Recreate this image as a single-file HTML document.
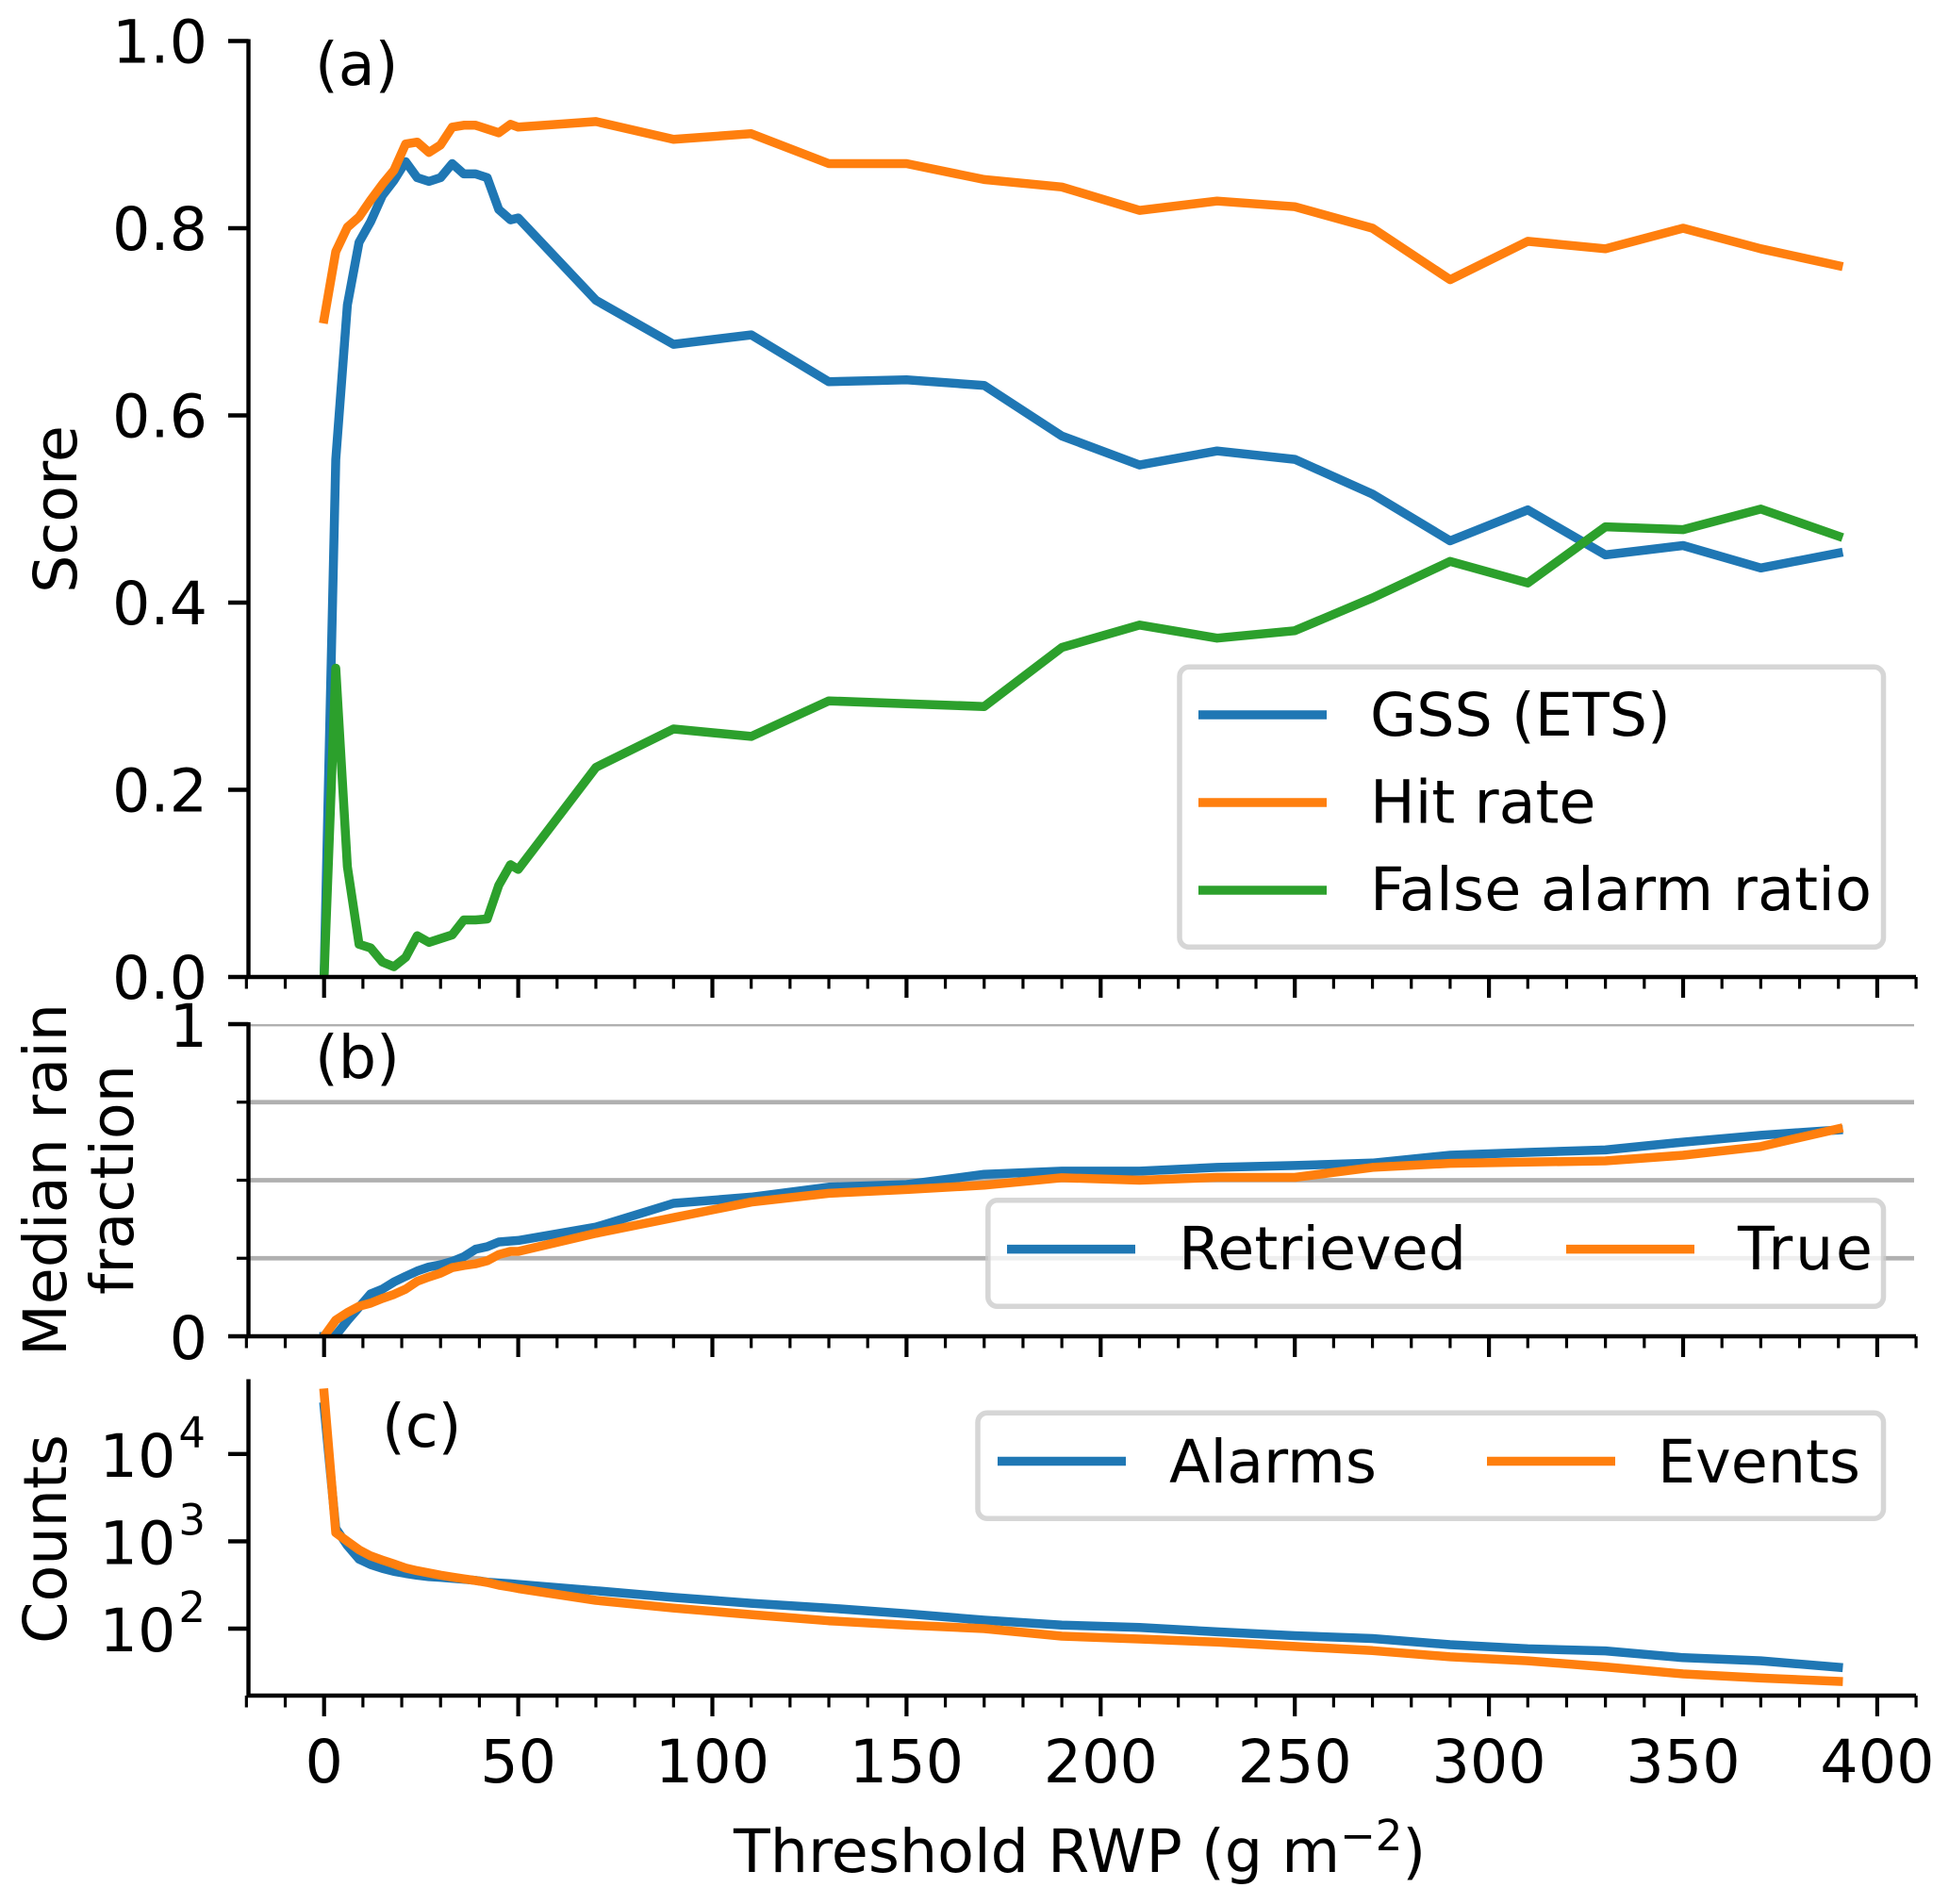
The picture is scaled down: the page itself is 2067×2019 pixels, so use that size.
<!DOCTYPE html>
<html lang="en">
<head>
<meta charset="utf-8">
<title>Threshold RWP scores</title>
<style>
html,body{margin:0;padding:0;background:#fff;}
svg{display:block;}
text{font-family:"DejaVu Sans","Liberation Sans",sans-serif;font-size:63.5px;fill:#000;}
.legend-frame{fill:rgba(255,255,255,0.8);stroke:rgba(204,204,204,0.8);stroke-width:5.5;}
</style>
</head>
<body>
<svg id="chart" xmlns="http://www.w3.org/2000/svg" width="2067" height="2019" viewBox="0 0 2067 2019">
  <rect x="0" y="0" width="2067" height="2019" fill="#fff"/>
  <defs>
    <clipPath id="clip-a"><rect x="263.5" y="43" width="1768.5" height="993"/></clipPath>
    <clipPath id="clip-b"><rect x="263.5" y="1086" width="1768.5" height="331"/></clipPath>
    <clipPath id="clip-c"><rect x="263.5" y="1464.5" width="1768.5" height="333.5"/></clipPath>
  </defs>
  <g id="grid-layer"></g>
  <g id="series-layer"></g>
  <g id="axes-layer"></g>

  <text x="334" y="90">(a)</text>
  <text x="334" y="1143">(b)</text>
  <text x="405" y="1534">(c)</text>

  <text text-anchor="middle" transform="translate(81 540) rotate(-90)">Score</text>
  <text text-anchor="middle" transform="translate(70 1251) rotate(-90)">Median rain</text>
  <text text-anchor="middle" transform="translate(141 1251) rotate(-90)">fraction</text>
  <text text-anchor="middle" transform="translate(70 1632) rotate(-90)">Counts</text>
  <text x="778" y="1985">Threshold RWP (g m<tspan dy="-23" font-size="45">−2</tspan><tspan dy="23">)</tspan></text>

  <g>
    <rect class="legend-frame" x="1251" y="707.3" width="746.5" height="297" rx="10"/>
    <line x1="1271" x2="1407" y1="758" y2="758" stroke="#1f77b4" stroke-width="9.5"/>
    <text x="1453" y="780">GSS (ETS)</text>
    <line x1="1271" x2="1407" y1="851" y2="851" stroke="#ff7f0e" stroke-width="9.5"/>
    <text x="1453" y="872.5">Hit rate</text>
    <line x1="1271" x2="1407" y1="944" y2="944" stroke="#2ca02c" stroke-width="9.5"/>
    <text x="1453" y="965" textLength="532" lengthAdjust="spacing">False alarm ratio</text>
  </g>

  <g>
    <rect class="legend-frame" x="1047.8" y="1272.8" width="949.7" height="112.5" rx="10"/>
    <line x1="1068" x2="1204" y1="1324.6" y2="1324.6" stroke="#1f77b4" stroke-width="9.5"/>
    <text x="1250" y="1346">Retrieved</text>
    <line x1="1661" x2="1797" y1="1324.6" y2="1324.6" stroke="#ff7f0e" stroke-width="9.5"/>
    <text x="1843" y="1346" textLength="143" lengthAdjust="spacing">True</text>
  </g>

  <g>
    <rect class="legend-frame" x="1037" y="1498.2" width="960.5" height="112" rx="10"/>
    <line x1="1058" x2="1194" y1="1549.5" y2="1549.5" stroke="#1f77b4" stroke-width="9.5"/>
    <text x="1240" y="1572">Alarms</text>
    <line x1="1577" x2="1713" y1="1549.5" y2="1549.5" stroke="#ff7f0e" stroke-width="9.5"/>
    <text x="1758" y="1572">Events</text>
  </g>
</svg>

<script>
// ---- data ----
const thresholds = [0,3,6,9,12,15,18,21,24,27,30,33,36,39,42,45,48,50,70,90,110,130,150,170,190,210,230,250,270,290,310,330,350,370,390];

const gssValues = [0,0.553,0.718,0.785,0.807,0.835,0.851,0.871,0.854,0.850,0.854,0.869,0.858,0.858,0.854,0.820,0.809,0.811,0.723,0.676,0.686,0.636,0.638,0.632,0.578,0.547,0.562,0.553,0.516,0.466,0.499,0.451,0.461,0.437,0.453];
const hitRateValues = [0.703,0.775,0.801,0.812,0.830,0.847,0.862,0.890,0.892,0.881,0.889,0.908,0.910,0.910,0.906,0.902,0.911,0.908,0.914,0.895,0.901,0.869,0.869,0.852,0.844,0.819,0.829,0.823,0.800,0.745,0.786,0.778,0.800,0.778,0.760];
const falseAlarmValues = [0,0.330,0.118,0.035,0.031,0.016,0.011,0.021,0.044,0.037,0.041,0.045,0.061,0.061,0.062,0.098,0.120,0.115,0.224,0.265,0.257,0.295,0.292,0.289,0.352,0.376,0.362,0.370,0.405,0.444,0.421,0.481,0.478,0.500,0.471];

const retrievedValues = [0,0.003,0.050,0.093,0.136,0.151,0.174,0.192,0.209,0.222,0.229,0.240,0.255,0.279,0.287,0.302,0.305,0.307,0.350,0.426,0.446,0.478,0.486,0.519,0.529,0.529,0.541,0.547,0.555,0.580,0.589,0.597,0.622,0.644,0.661];
const trueValues = [0,0.052,0.076,0.096,0.106,0.121,0.134,0.151,0.176,0.190,0.202,0.220,0.227,0.232,0.242,0.262,0.272,0.272,0.330,0.380,0.430,0.458,0.470,0.484,0.508,0.500,0.509,0.509,0.541,0.554,0.558,0.562,0.580,0.608,0.665];

const alarmCounts = [34750,1409,897,625,541,490,452,428,409,394,387,377,367,357,341,333,327,321,272,228,195,172,148,125,110,103,92,83,77,65.5,58.7,55.6,46.5,42.8,36.1];
const eventCounts = [50000,1253,1000,800,680,610,550,495,460,435,410,390,372,355,338,315,299,288,211,172,145,123,110,100,82,76,70,62.5,56,47.6,42.8,36.4,30.3,27.2,24.9];

const xMajorTicks = [0,50,100,150,200,250,300,350,400];
const xMinorTicks = [-20,-10,10,20,30,40,60,70,80,90,110,120,130,140,160,170,180,190,210,220,230,240,260,270,280,290,310,320,330,340,360,370,380,390,410];
const scoreTicks = [0,0.2,0.4,0.6,0.8,1];
const scoreTickLabels = ['0.0','0.2','0.4','0.6','0.8','1.0'];
const fractionTicks = [0,1];
const fractionMinorTicks = [0.25,0.5,0.75];
const fractionGrid = [0.25,0.5,0.75,1];
const countExponents = [2,3,4];

// ---- axis functions ----
const X_ZERO = 343.7, X_PER_UNIT = 4.118;
const AXIS_LEFT = 263.5, AXIS_RIGHT = 2032;
const A_BOTTOM = 1036, A_TOP = 43.5, B_BOTTOM = 1417, B_TOP = 1086, C_BOTTOM = 1798, C_TOP = 1464.5;
function xAxis(v){ return X_ZERO + v * X_PER_UNIT; }
function yScore(v){ return A_BOTTOM - v * (A_BOTTOM - A_TOP); }
function yFraction(v){ return B_BOTTOM - v * (B_BOTTOM - B_TOP); }
function yCounts(v){ return 1727 - (Math.log10(v) - 2) * 92.6; }

const NS = 'http://www.w3.org/2000/svg';
const gridLayer = document.getElementById('grid-layer');
const seriesLayer = document.getElementById('series-layer');
const axesLayer = document.getElementById('axes-layer');

function drawLine(parent, x1, y1, x2, y2, color, width, name){
  const el = document.createElementNS(NS, 'line');
  el.setAttribute('x1', x1);
  el.setAttribute('y1', y1);
  el.setAttribute('x2', x2);
  el.setAttribute('y2', y2);
  el.setAttribute('stroke', color);
  el.setAttribute('stroke-width', width);
  
  
  parent.appendChild(el);
  return el;
}
function drawText(parent, x, y, str, anchor, name){
  const el = document.createElementNS(NS, 'text');
  el.setAttribute('x', x);
  el.setAttribute('y', y);
  el.setAttribute('text-anchor', anchor);
  el.textContent = str;
  
  
  parent.appendChild(el);
  return el;
}
function drawSeries(values, yFn, color, clipId, name){
  const el = document.createElementNS(NS, 'polyline');
  const pts = thresholds.map(function(t, i){ return xAxis(t).toFixed(1) + ',' + yFn(values[i]).toFixed(1); });
  el.setAttribute('points', pts.join(' '));
  el.setAttribute('fill', 'none');
  el.setAttribute('stroke', color);
  el.setAttribute('stroke-width', 9.5);
  el.setAttribute('stroke-linejoin', 'round');
  el.setAttribute('stroke-linecap', 'square');
  el.setAttribute('clip-path', 'url(#' + clipId + ')');
  
  
  seriesLayer.appendChild(el);
}

// ---- grid ----
fractionGrid.forEach(function(v){
  const g = drawLine(gridLayer, AXIS_LEFT, yFraction(v), 2030, yFraction(v), '#b0b0b0', 4.8, 'fraction-gridline');
  g.setAttribute('clip-path', 'url(#clip-b)');
});

// ---- series ----
drawSeries(gssValues, yScore, '#1f77b4', 'clip-a', 'series-gss');
drawSeries(hitRateValues, yScore, '#ff7f0e', 'clip-a', 'series-hit-rate');
drawSeries(falseAlarmValues, yScore, '#2ca02c', 'clip-a', 'series-false-alarm');
drawSeries(retrievedValues, yFraction, '#1f77b4', 'clip-b', 'series-retrieved');
drawSeries(trueValues, yFraction, '#ff7f0e', 'clip-b', 'series-true');
drawSeries(alarmCounts, yCounts, '#1f77b4', 'clip-c', 'series-alarms');
drawSeries(eventCounts, yCounts, '#ff7f0e', 'clip-c', 'series-events');

// ---- spines and x ticks ----
[[A_BOTTOM, A_TOP, 'score'], [B_BOTTOM, B_TOP, 'fraction'], [C_BOTTOM, C_TOP, 'counts']].forEach(function(p){
  const bottom = p[0], top = p[1], label = p[2];
  drawLine(axesLayer, AXIS_LEFT, top - 2, AXIS_LEFT, bottom + 2, '#000', 4.4, label + '-left-spine');
  drawLine(axesLayer, AXIS_LEFT - 2, bottom, AXIS_RIGHT, bottom, '#000', 4.6, label + '-bottom-spine');
  xMajorTicks.forEach(function(v){
    drawLine(axesLayer, xAxis(v), bottom, xAxis(v), bottom + 22, '#000', 4.2, label + '-x-major-tick');
  });
  xMinorTicks.forEach(function(v){
    drawLine(axesLayer, xAxis(v), bottom, xAxis(v), bottom + 12.5, '#000', 3.2, label + '-x-minor-tick');
  });
});
xMajorTicks.forEach(function(v){
  drawText(axesLayer, xAxis(v), 1890, String(v), 'middle', 'x-tick-label-' + v);
});

// ---- y ticks ----
scoreTicks.forEach(function(v, i){
  drawLine(axesLayer, 242, yScore(v), AXIS_LEFT, yScore(v), '#000', 4.4, 'score-y-tick');
  drawText(axesLayer, 220, yScore(v) + 23, scoreTickLabels[i], 'end', 'score-y-tick-label');
});
fractionTicks.forEach(function(v){
  drawLine(axesLayer, 242, yFraction(v), AXIS_LEFT, yFraction(v), '#000', 4.4, 'fraction-y-tick');
  drawText(axesLayer, 220, yFraction(v) + 24, String(v), 'end', 'fraction-y-tick-label');
});
fractionMinorTicks.forEach(function(v){
  drawLine(axesLayer, 251, yFraction(v), AXIS_LEFT, yFraction(v), '#000', 3.2, 'fraction-y-minor-tick');
});
countExponents.forEach(function(e){
  const value = Math.pow(10, e);
  drawLine(axesLayer, 242, yCounts(value), AXIS_LEFT, yCounts(value), '#000', 4.4, 'counts-y-tick');
  const label = drawText(axesLayer, 218, yCounts(value) + 24, '10', 'end', 'counts-y-tick-label');
  const sup = document.createElementNS(NS, 'tspan');
  sup.setAttribute('dy', -31);
  sup.setAttribute('font-size', 45);
  sup.setAttribute('dx', 3);
  sup.textContent = String(e);
  label.appendChild(sup);
});
</script>
</body>
</html>
